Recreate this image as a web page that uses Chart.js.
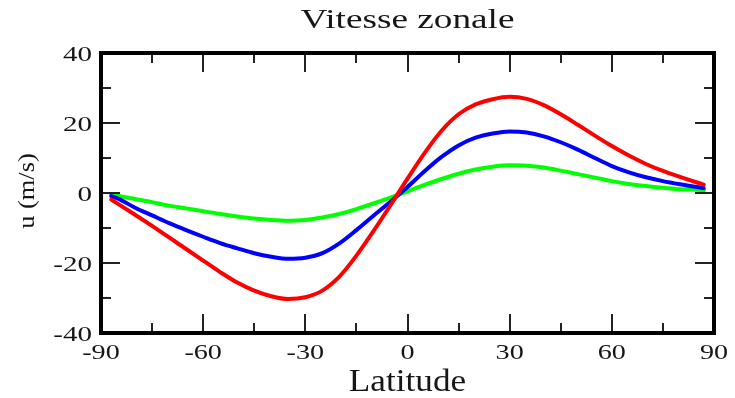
<!DOCTYPE html>
<html>
<head>
<meta charset="utf-8">
<script src="https://cdn.jsdelivr.net/npm/chart.js@4/dist/chart.umd.min.js"></script>
<style>
  html, body { margin: 0; padding: 0; background: #fff; }
  #wrap { width: 735px; height: 398px; }
</style>
</head>
<body>
<div id="wrap"><canvas id="c" width="735" height="398"></canvas></div>
<script>
// latitude (deg) and zonal wind u (m/s)
const latitudes = [-87, -85, -80, -75, -70, -65, -60, -55, -50, -45, -40, -35, -30, -25, -20, -15, -10, -5, 0,
                   5, 10, 15, 20, 25, 30, 35, 40, 45, 50, 55, 60, 65, 70, 75, 80, 85, 87];
const uRed   = [-1.9, -3.1, -6.2, -9.4, -12.7, -16.0, -19.3, -22.6, -25.6, -27.9, -29.5, -30.3, -29.8, -27.9, -23.9, -17.9, -10.9, -3.5, 4.1,
                11.4, 17.8, 22.5, 25.3, 26.8, 27.5, 26.9, 25.1, 22.5, 19.5, 16.4, 13.4, 10.7, 8.3, 6.3, 4.6, 3.0, 2.4];
const uBlue  = [-0.9, -1.6, -4.2, -6.4, -8.6, -10.6, -12.5, -14.3, -15.8, -17.2, -18.2, -18.8, -18.5, -17.2, -14.4, -10.6, -6.5, -2.5, 1.7,
                6.2, 10.3, 13.6, 15.8, 17.0, 17.6, 17.3, 16.2, 14.5, 12.4, 10.0, 7.7, 5.9, 4.5, 3.4, 2.5, 1.7, 1.4];
const uGreen = [-0.4, -0.8, -1.7, -2.6, -3.6, -4.4, -5.2, -6.0, -6.7, -7.3, -7.7, -7.9, -7.7, -7.0, -6.0, -4.6, -3.0, -1.3, 0.5,
                2.3, 4.0, 5.5, 6.7, 7.5, 7.9, 7.8, 7.3, 6.4, 5.4, 4.4, 3.4, 2.6, 2.0, 1.5, 1.1, 0.9, 0.8];

const xTickStep = 15, xLabelStep = 30;   // minor / labelled ticks
const yTickStep = 10, yLabelStep = 20;

const TITLE = "Vitesse zonale";
const XTITLE = "Latitude";
const YTITLE = "u (m/s)";
const SERIF = '"Liberation Serif", "Times New Roman", serif';
const INK = "#161616";

function pts(ys) {
  return latitudes.map((x, i) => ({ x: x, y: ys[i] }));
}

// text in the figure is drawn wider than the font, so stretch along the text direction
function wideText(ctx, txt, x, y, size, sx, align, rot) {
  ctx.save();
  ctx.translate(x, y);
  if (rot) ctx.rotate(rot);
  ctx.scale(sx, 1);
  ctx.font = size + "px " + SERIF;
  ctx.fillStyle = INK;
  ctx.textAlign = align;
  ctx.textBaseline = "alphabetic";
  ctx.fillText(txt, 0, 0);
  ctx.restore();
}

const frame = {
  id: "frame",
  afterDraw(chart) {
    const ctx = chart.ctx;
    const a = chart.chartArea;
    const xs = chart.scales.x, ys = chart.scales.y;

    // inward ticks on all four sides
    ctx.save();
    ctx.strokeStyle = "#222";
    ctx.lineWidth = 2;
    ctx.beginPath();
    xs.ticks.forEach((t) => {
      const px = Math.round(xs.getPixelForValue(t.value));
      const len = t.value % xLabelStep === 0 ? 19 : 10;
      ctx.moveTo(px, a.bottom); ctx.lineTo(px, a.bottom - len);
      ctx.moveTo(px, a.top); ctx.lineTo(px, a.top + len);
    });
    ys.ticks.forEach((t) => {
      const py = Math.round(ys.getPixelForValue(t.value));
      const len = t.value % yLabelStep === 0 ? 19 : 10;
      ctx.moveTo(a.left, py); ctx.lineTo(a.left + len, py);
      ctx.moveTo(a.right, py); ctx.lineTo(a.right - len, py);
    });
    ctx.stroke();

    ctx.lineWidth = 4;
    ctx.strokeStyle = "#000";
    ctx.strokeRect(a.left, a.top, a.right - a.left, a.bottom - a.top);
    ctx.restore();

    // tick labels
    xs.ticks.forEach((t) => {
      if (t.value % xLabelStep !== 0) return;
      wideText(ctx, String(t.value), xs.getPixelForValue(t.value), a.bottom + 26, 22, 1.28, "center");
    });
    ys.ticks.forEach((t) => {
      if (t.value % yLabelStep !== 0) return;
      wideText(ctx, String(t.value), a.left - 9, ys.getPixelForValue(t.value) + 8, 22, 1.32, "right");
    });

    // titles
    const cx = (a.left + a.right) / 2;
    wideText(ctx, TITLE, cx, 28, 28, 1.33, "center");
    wideText(ctx, XTITLE, cx, 391, 32, 1.1, "center");
    wideText(ctx, YTITLE, 34, (a.top + a.bottom) / 2 - 2, 24, 1.1, "center", -Math.PI / 2);
  }
};

new Chart(document.getElementById("c"), {
  type: "line",
  data: {
    datasets: [
      { data: pts(uRed), borderColor: "#ff0000" },
      { data: pts(uBlue), borderColor: "#0000ff" },
      { data: pts(uGreen), borderColor: "#00ff00" },
    ],
  },
  options: {
    responsive: false,
    animation: false,
    layout: { padding: { left: 0, right: 21, top: 53, bottom: 0 } },
    elements: {
      line: { borderWidth: 4, cubicInterpolationMode: "monotone", fill: false, borderCapStyle: "round", borderJoinStyle: "round" },
      point: { radius: 0 },
    },
    scales: {
      x: {
        type: "linear", min: -90, max: 90,
        ticks: { stepSize: xTickStep, display: false },
        grid: { display: false }, border: { display: false },
        afterFit: (s) => { s.height = 65; },
      },
      y: {
        min: -40, max: 40,
        ticks: { stepSize: yTickStep, display: false },
        grid: { display: false }, border: { display: false },
        afterFit: (s) => { s.width = 101; },
      },
    },
    plugins: { legend: { display: false }, tooltip: { enabled: false }, title: { display: false } },
  },
  plugins: [frame],
});
</script>
</body>
</html>
